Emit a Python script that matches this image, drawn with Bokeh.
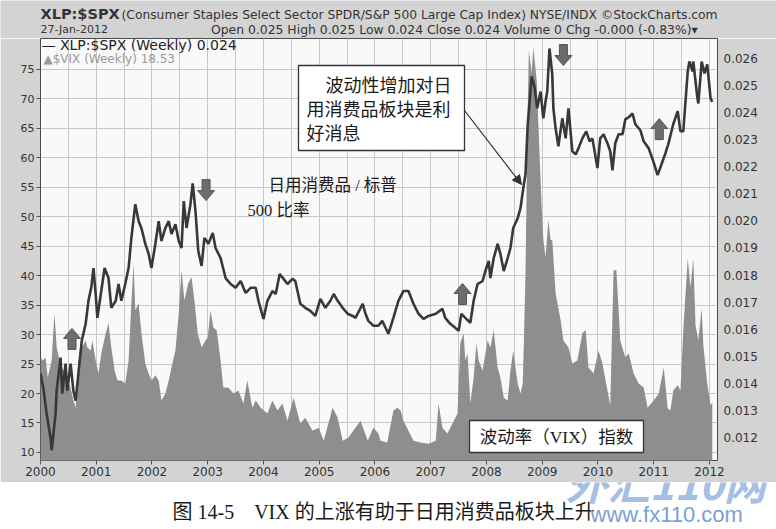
from bokeh.plotting import figure
from bokeh.models import (Range1d, LinearAxis, FixedTicker, NumeralTickFormatter, Label,
                          BoxAnnotation, Arrow, NormalHead)
from bokeh.layouts import column
from bokeh.embed import file_html
from bokeh.resources import INLINE

# ---------------- data ----------------
xlp_dates = [2000.00, 2000.05, 2000.11, 2000.18, 2000.20, 2000.27, 2000.29, 2000.36, 2000.39, 2000.45,
             2000.48, 2000.54, 2000.59, 2000.63, 2000.68, 2000.74, 2000.81, 2000.86, 2000.91, 2000.95,
             2000.99, 2001.02, 2001.09, 2001.15, 2001.22, 2001.27, 2001.35, 2001.40, 2001.45, 2001.52,
             2001.58, 2001.63, 2001.70, 2001.76, 2001.81, 2001.88, 2001.94, 2001.99, 2002.06, 2002.12,
             2002.17, 2002.24, 2002.30, 2002.35, 2002.42, 2002.48, 2002.53, 2002.57, 2002.62, 2002.69,
             2002.73, 2002.78, 2002.83, 2002.89, 2002.94, 2002.98, 2003.01, 2003.09, 2003.14, 2003.23,
             2003.32, 2003.41, 2003.50, 2003.59, 2003.68, 2003.77, 2003.86, 2003.91, 2004.00, 2004.07,
             2004.16, 2004.22, 2004.29, 2004.36, 2004.43, 2004.52, 2004.57, 2004.61, 2004.66, 2004.75,
             2004.84, 2004.93, 2005.02, 2005.11, 2005.20, 2005.26, 2005.33, 2005.42, 2005.51, 2005.60,
             2005.65, 2005.78, 2005.83, 2005.88, 2005.97, 2006.06, 2006.13, 2006.24, 2006.33, 2006.42,
             2006.51, 2006.60, 2006.69, 2006.78, 2006.87, 2006.96, 2007.09, 2007.21, 2007.26, 2007.35,
             2007.44, 2007.50, 2007.55, 2007.62, 2007.71, 2007.77, 2007.84, 2007.93, 2007.98, 2008.04,
             2008.07, 2008.13, 2008.20, 2008.25, 2008.31, 2008.38, 2008.43, 2008.48, 2008.56, 2008.61,
             2008.66, 2008.70, 2008.74, 2008.77, 2008.81, 2008.86, 2008.91, 2008.97, 2009.02, 2009.06,
             2009.09, 2009.13, 2009.18, 2009.20, 2009.24, 2009.29, 2009.36, 2009.42, 2009.47, 2009.54,
             2009.60, 2009.65, 2009.72, 2009.79, 2009.85, 2009.90, 2009.96, 2009.99, 2010.04, 2010.10,
             2010.17, 2010.22, 2010.26, 2010.31, 2010.37, 2010.44, 2010.49, 2010.55, 2010.62, 2010.67,
             2010.76, 2010.82, 2010.91, 2010.98, 2011.07, 2011.12, 2011.21, 2011.26, 2011.35, 2011.43,
             2011.48, 2011.53, 2011.61, 2011.64, 2011.70, 2011.71, 2011.78, 2011.80, 2011.86, 2011.91,
             2011.96, 2012.02, 2012.05]

xlp_ratio = [0.01436, 0.01384, 0.01288, 0.01200, 0.01152, 0.01288, 0.01373, 0.01495, 0.01362, 0.01473,
             0.01373, 0.01473, 0.01373, 0.01336, 0.01436, 0.01557, 0.01620, 0.01705, 0.01753, 0.01826,
             0.01730, 0.01642, 0.01741, 0.01826, 0.01789, 0.01679, 0.01705, 0.01767, 0.01705, 0.01767,
             0.01826, 0.01937, 0.02062, 0.01999, 0.01974, 0.01915, 0.01878, 0.01826, 0.01915, 0.01999,
             0.01926, 0.01974, 0.01999, 0.01952, 0.01988, 0.01926, 0.01900, 0.02073, 0.01974, 0.02062,
             0.02139, 0.02036, 0.01889, 0.01834, 0.01937, 0.01926, 0.01915, 0.01955, 0.01900, 0.01863,
             0.01789, 0.01767, 0.01753, 0.01778, 0.01734, 0.01753, 0.01753, 0.01705, 0.01638, 0.01705,
             0.01741, 0.01730, 0.01804, 0.01786, 0.01767, 0.01786, 0.01778, 0.01741, 0.01694, 0.01679,
             0.01668, 0.01649, 0.01712, 0.01679, 0.01705, 0.01730, 0.01705, 0.01679, 0.01657, 0.01649,
             0.01642, 0.01694, 0.01657, 0.01631, 0.01613, 0.01613, 0.01631, 0.01583, 0.01642, 0.01705,
             0.01741, 0.01741, 0.01694, 0.01657, 0.01638, 0.01649, 0.01657, 0.01675, 0.01642, 0.01620,
             0.01605, 0.01594, 0.01657, 0.01642, 0.01624, 0.01705, 0.01767, 0.01778, 0.01815, 0.01852,
             0.01789, 0.01863, 0.01915, 0.01878, 0.01815, 0.01863, 0.01900, 0.01974, 0.02010, 0.02047,
             0.02121, 0.02173, 0.02357, 0.02431, 0.02534, 0.02497, 0.02416, 0.02478, 0.02379, 0.02442,
             0.02478, 0.02637, 0.02541, 0.02416, 0.02342, 0.02276, 0.02379, 0.02305, 0.02416, 0.02257,
             0.02246, 0.02268, 0.02305, 0.02331, 0.02294, 0.02305, 0.02232, 0.02195, 0.02305, 0.02320,
             0.02287, 0.02257, 0.02187, 0.02287, 0.02320, 0.02320, 0.02375, 0.02383, 0.02397, 0.02357,
             0.02335, 0.02294, 0.02268, 0.02228, 0.02169, 0.02198, 0.02250, 0.02283, 0.02357, 0.02405,
             0.02331, 0.02331, 0.02552, 0.02589, 0.02552, 0.02589, 0.02460, 0.02434, 0.02589, 0.02545,
             0.02578, 0.02453, 0.02440]

vix_dates = [2000.00, 2000.04, 2000.09, 2000.13, 2000.20, 2000.25, 2000.29, 2000.34, 2000.38, 2000.45,
             2000.54, 2000.59, 2000.63, 2000.68, 2000.74, 2000.81, 2000.84, 2000.90, 2000.93, 2000.99,
             2001.04, 2001.09, 2001.17, 2001.22, 2001.27, 2001.33, 2001.38, 2001.45, 2001.52, 2001.58,
             2001.63, 2001.67, 2001.70, 2001.76, 2001.81, 2001.88, 2001.94, 2001.99, 2002.06, 2002.12,
             2002.17, 2002.24, 2002.30, 2002.35, 2002.42, 2002.48, 2002.53, 2002.58, 2002.65, 2002.71,
             2002.76, 2002.82, 2002.89, 2002.96, 2003.00, 2003.05, 2003.10, 2003.16, 2003.23, 2003.28,
             2003.37, 2003.46, 2003.55, 2003.64, 2003.71, 2003.80, 2003.86, 2003.95, 2004.07, 2004.16,
             2004.25, 2004.34, 2004.43, 2004.54, 2004.66, 2004.75, 2004.88, 2004.99, 2005.08, 2005.24,
             2005.33, 2005.42, 2005.52, 2005.61, 2005.74, 2005.87, 2005.97, 2006.06, 2006.10, 2006.22,
             2006.33, 2006.40, 2006.46, 2006.51, 2006.60, 2006.69, 2006.82, 2006.96, 2007.09, 2007.14,
             2007.21, 2007.30, 2007.39, 2007.48, 2007.53, 2007.59, 2007.62, 2007.66, 2007.71, 2007.77,
             2007.82, 2007.86, 2007.93, 2008.02, 2008.07, 2008.13, 2008.20, 2008.25, 2008.31, 2008.38,
             2008.43, 2008.48, 2008.56, 2008.61, 2008.65, 2008.67, 2008.70, 2008.74, 2008.76, 2008.81,
             2008.84, 2008.90, 2008.93, 2008.99, 2009.02, 2009.06, 2009.11, 2009.15, 2009.18, 2009.24,
             2009.33, 2009.38, 2009.47, 2009.54, 2009.63, 2009.72, 2009.78, 2009.83, 2009.92, 2010.01,
             2010.08, 2010.17, 2010.22, 2010.28, 2010.33, 2010.37, 2010.40, 2010.49, 2010.55, 2010.64,
             2010.73, 2010.82, 2010.89, 2011.00, 2011.09, 2011.18, 2011.25, 2011.30, 2011.35, 2011.43,
             2011.48, 2011.53, 2011.61, 2011.66, 2011.71, 2011.75, 2011.80, 2011.86, 2011.89, 2011.96,
             2012.02, 2012.05]

vix_close = [26.1, 25.6, 26.1, 22.7, 25.6, 33.6, 27.8, 25.6, 24.4, 23.4,
             21.0, 18.8, 17.6, 25.6, 27.8, 29.0, 27.8, 27.3, 29.0, 25.6,
             23.4, 26.8, 30.2, 31.9, 27.8, 23.9, 22.2, 22.2, 21.7, 25.6,
             35.3, 42.1, 34.1, 35.3, 30.2, 25.1, 23.4, 22.2, 23.1, 22.2,
             18.8, 20.0, 22.2, 24.4, 27.3, 33.6, 40.9, 35.8, 38.7, 39.7,
             35.8, 30.2, 27.8, 29.0, 29.5, 34.1, 31.2, 30.7, 25.6, 21.0,
             21.0, 20.0, 20.5, 18.3, 22.2, 17.6, 18.8, 17.6, 16.6, 18.8,
             17.1, 18.3, 15.4, 19.3, 14.9, 15.9, 13.7, 14.2, 12.0, 17.6,
             15.9, 12.0, 12.5, 13.7, 15.4, 12.0, 14.2, 13.2, 12.0, 11.7,
             17.1, 17.6, 17.1, 15.4, 13.7, 12.0, 11.7, 11.5, 12.0, 18.3,
             14.2, 13.2, 14.9, 16.6, 28.5, 30.2, 25.6, 26.8, 18.3, 22.7,
             28.5, 25.6, 23.9, 29.0, 27.8, 30.7, 24.4, 22.7, 19.3, 18.8,
             23.9, 27.3, 21.7, 20.0, 21.7, 28.5, 40.4, 68.6, 78.2, 74.3,
             78.7, 73.1, 65.8, 51.6, 46.0, 43.1, 49.4, 46.0, 46.0, 37.0,
             32.4, 29.0, 27.8, 25.1, 25.6, 30.2, 30.7, 24.4, 23.4, 27.3,
             25.1, 20.5, 18.0, 40.9, 40.9, 34.1, 29.0, 26.1, 26.8, 23.4,
             21.7, 21.0, 17.6, 18.8, 20.0, 24.4, 17.5, 17.1, 20.5, 21.4,
             20.5, 30.7, 42.9, 38.0, 42.9, 31.6, 29.0, 34.4, 28.2, 21.7,
             18.0, 18.5]

assert len(xlp_dates) == len(xlp_ratio), (len(xlp_dates), len(xlp_ratio))
assert len(vix_dates) == len(vix_close), (len(vix_dates), len(vix_close))

year_ticks = [2000, 2001, 2002, 2003, 2004, 2005, 2006, 2007, 2008, 2009, 2010, 2011, 2012]
half_year_ticks = [2000.5, 2001.5, 2002.5, 2003.5, 2004.5, 2005.5, 2006.5, 2007.5, 2008.5,
                   2009.5, 2010.5, 2011.5]
vix_ticks = [10, 15, 20, 25, 30, 35, 40, 45, 50, 55, 60, 65, 70, 75]
ratio_ticks = [0.012, 0.013, 0.014, 0.015, 0.016, 0.017, 0.018, 0.019, 0.020, 0.021,
               0.022, 0.023, 0.024, 0.025, 0.026]

# signal arrows (date, ratio level of the arrow tip)
up_arrow_dates = [2000.565, 2007.57, 2011.10]
up_arrow_tips = [0.01603, 0.01769, 0.02378]
down_arrow_dates = [2002.97, 2009.38]
down_arrow_tips = [0.02075, 0.02574]

# ---------------- layout ----------------
X_LO, X_HI = 2000.0, 2012.144
VIX_LO, VIX_HI = 8.644, 80.17
R_LO, R_HI = 0.011150, 0.026739
FW, FH = 677, 422
FRAME_LEFT, FRAME_BOTTOM = 40, 460   # page coords of frame edges
HEAD_H = 38                          # header strip height
MAIN_BOTTOM = 482                    # bottom of grey chart panel
PANEL = "#d3d3d3"

SANS = "DejaVu Sans"
CJK = "Noto Sans CJK SC"
MIX = "Liberation Serif, Noto Sans CJK SC"

# ---- header strip ----
p0 = figure(width=776, height=HEAD_H, output_backend="svg", toolbar_location=None,
            x_range=Range1d(0, 776), y_range=Range1d(0, HEAD_H),
            x_axis_location=None, y_axis_location=None, min_border=0, frame_align=False,
            border_fill_color=PANEL, background_fill_color=PANEL, outline_line_color=None)
p0.grid.visible = False


def hlab(px, py, text, size, style="normal", align="left"):
    return Label(x=px, y=HEAD_H - py, text=text, text_font=SANS, text_font_size=f"{size}px",
                 text_color="#333333", text_font_style=style, text_align=align,
                 text_baseline="middle")


for l in [
    hlab(40, 13, "XLP:$SPX", 14.5, style="bold"),
    hlab(121, 14, "(Consumer Staples Select Sector SPDR/S&P 500 Large Cap Index) NYSE/INDX \u00a9StockCharts.com", 12.3),
    hlab(40, 29, "27-Jan-2012", 11),
    hlab(717, 29, "Open 0.025  High 0.025  Low 0.024  Close 0.024  Volume 0  Chg -0.000 (-0.83%)\u25be",
         12.4, align="right"),
]:
    p0.add_layout(l)

# ---- main chart ----
MAIN_H = MAIN_BOTTOM - HEAD_H
p = figure(width=776, height=MAIN_H, output_backend="svg", toolbar_location=None,
           x_range=Range1d(X_LO, X_HI), y_range=Range1d(VIX_LO, VIX_HI),
           min_border_left=40, min_border_right=776 - 40 - FW, min_border_top=0,
           min_border_bottom=MAIN_H - FH, frame_align=False,
           border_fill_color=PANEL, background_fill_color="#f9f9f9",
           outline_line_color="#4a4a4a", outline_line_width=1)
p.extra_y_ranges = {"ratio": Range1d(R_LO, R_HI)}

p.xaxis.ticker = FixedTicker(ticks=year_ticks, minor_ticks=half_year_ticks)
p.xaxis.formatter = NumeralTickFormatter(format="0")
p.yaxis.ticker = FixedTicker(ticks=vix_ticks)
rax = LinearAxis(y_range_name="ratio", ticker=FixedTicker(ticks=ratio_ticks),
                 formatter=NumeralTickFormatter(format="0.000"))
p.add_layout(rax, "right")
for ax in [p.xaxis[0], p.yaxis[0], rax]:
    ax.axis_line_color = None
    ax.major_tick_line_color = "#555555"
    ax.major_tick_out = 4
    ax.major_tick_in = 0
    ax.minor_tick_line_color = None
    ax.major_label_standoff = 2
    ax.major_label_text_font = SANS
    ax.major_label_text_color = "#333333"
p.yaxis[0].major_label_text_font_size = "11px"
p.xaxis[0].major_label_text_font_size = "12px"
rax.major_label_text_font_size = "12px"
rax.major_tick_line_color = None

p.xgrid.grid_line_color = "#c8c8c8"
p.xgrid.minor_grid_line_color = "#c8c8c8"
p.ygrid.grid_line_color = "#c8c8c8"

# VIX area (left axis) and XLP:$SPX ratio line (right axis)
p.varea(x=vix_dates, y1=0, y2=vix_close, fill_color="#8e8e8e", fill_alpha=1.0)
p.line(x=xlp_dates, y=xlp_ratio, y_range_name="ratio", line_color="#383838", line_width=2.6)

# block arrows built from the arrow data and a fixed pixel shape
kx = (X_HI - X_LO) / FW
ky = (R_HI - R_LO) / FH
shape = [(0, 0), (8.5, 10), (4, 10), (4, 21), (-4, 21), (-4, 10), (-8.5, 10)]
xs, ys = [], []
for d, t in zip(up_arrow_dates, up_arrow_tips):
    xs.append([d + sx * kx for sx, sy in shape])
    ys.append([t - sy * ky for sx, sy in shape])
for d, t in zip(down_arrow_dates, down_arrow_tips):
    xs.append([d + sx * kx for sx, sy in shape])
    ys.append([t + sy * ky for sx, sy in shape])
p.patches(xs=xs, ys=ys, y_range_name="ratio", fill_color="#6c6c6c", line_color="#555555",
          line_width=1)


def px2x(px):
    return X_LO + (px - FRAME_LEFT) / FW * (X_HI - X_LO)


def py2v(py):
    return VIX_LO + (FRAME_BOTTOM - py) / FH * (VIX_HI - VIX_LO)


def lab(px, py, text, size, font=SANS, color="#222222", align="left", style="normal", alpha=1.0):
    return Label(x=px - FRAME_LEFT, y=FRAME_BOTTOM - py, x_units="screen", y_units="screen",
                 text=text, text_font=font, text_font_size=f"{size}px", text_color=color,
                 text_align=align, text_baseline="middle", text_font_style=style,
                 text_alpha=alpha)


p.add_layout(BoxAnnotation(left=px2x(298), right=px2x(464), top=py2v(65), bottom=py2v(150),
                           fill_color="white", fill_alpha=1.0, line_color="#333333",
                           line_width=1.3, line_alpha=1.0))
p.add_layout(BoxAnnotation(left=px2x(469), right=px2x(643), top=py2v(420), bottom=py2v(452),
                           fill_color="white", fill_alpha=1.0, line_color="#333333",
                           line_width=1.3, line_alpha=1.0))

p.add_layout(Arrow(end=NormalHead(size=9, fill_color="#333333", line_color="#333333"),
                   x_start=464 - FRAME_LEFT, y_start=FRAME_BOTTOM - 110,
                   x_end=521 - FRAME_LEFT, y_end=FRAME_BOTTOM - 184,
                   start_units="screen", end_units="screen",
                   line_color="#333333", line_width=1.2))

WM_COLOR = "#7ea3d8"
for l in [
    lab(41, 44, "\u2014 XLP:$SPX (Weekly) 0.024", 14, color="#222222"),
    lab(43, 58, "\u25b2$VIX (Weekly) 18.53", 12, color="#9a9a9a"),
    lab(325, 83, "波动性增加对日", 18, font=CJK, color="#1a1a1a"),
    lab(306, 107, "用消费品板块是利", 18, font=CJK, color="#1a1a1a"),
    lab(306, 131, "好消息", 18, font=CJK, color="#1a1a1a"),
    lab(268, 185, "日用消费品 / 标普", 16.5, font=MIX, color="#1a1a1a"),
    lab(247, 210, "500 比率", 16.5, font=MIX, color="#1a1a1a"),
    lab(556, 436, "波动率（VIX）指数", 17.5, font=MIX, color="#1a1a1a", align="center"),
    lab(565, 481, "外汇110网", 42, font=CJK, color=WM_COLOR, style="bold italic", alpha=0.7),
]:
    p.add_layout(l)

# ---- caption strip ----
CAP_H = 529 - MAIN_BOTTOM
p2 = figure(width=776, height=CAP_H, output_backend="svg", toolbar_location=None,
            x_range=Range1d(0, 776), y_range=Range1d(0, CAP_H),
            x_axis_location=None, y_axis_location=None, min_border=0, frame_align=False,
            border_fill_color="white", background_fill_color="white", outline_line_color=None)
p2.grid.visible = False
p2.add_layout(Label(x=172, y=529 - 511,
                    text="图 14-5\u00a0\u00a0\u00a0\u00a0VIX 的上涨有助于日用消费品板块上升",
                    text_font=MIX, text_font_size="20px", text_color="#1a1a1a",
                    text_align="left", text_baseline="middle"))
p2.add_layout(Label(x=565, y=529 - 481, text="外汇110网", text_font=CJK, text_font_size="42px",
                    text_color=WM_COLOR, text_align="left", text_baseline="middle",
                    text_font_style="bold italic", text_alpha=0.7))
p2.add_layout(Label(x=590, y=529 - 514, text="www.fx110.com", text_font="Liberation Sans",
                    text_font_size="22px", text_color="#7a9fd4", text_align="left",
                    text_baseline="middle"))

layout = column(p0, p, p2, spacing=0)
open("out.html", "w").write(file_html(layout, INLINE))
